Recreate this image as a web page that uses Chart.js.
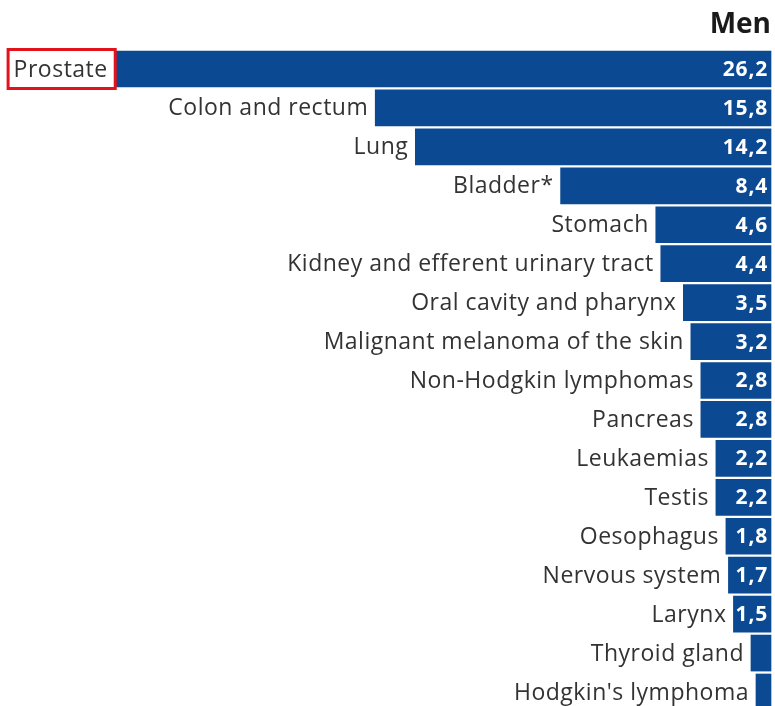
<!DOCTYPE html>
<html>
<head>
<meta charset="utf-8">
<script src="https://cdn.jsdelivr.net/npm/chart.js@4.4.1/dist/chart.umd.min.js"></script>
<style>
  html, body { margin: 0; padding: 0; background: #ffffff; }
  #wrap { position: relative; width: 775px; height: 706px; }
</style>
</head>
<body>
<div id="wrap"><canvas id="c" width="775" height="706"></canvas></div>
<script>
const title = "Men";
const categories = [
  "Prostate", "Colon and rectum", "Lung", "Bladder*", "Stomach",
  "Kidney and efferent urinary tract", "Oral cavity and pharynx",
  "Malignant melanoma of the skin", "Non-Hodgkin lymphomas", "Pancreas",
  "Leukaemias", "Testis", "Oesophagus", "Nervous system", "Larynx",
  "Thyroid gland", "Hodgkin's lymphoma"
];
const values = [26.2, 15.8, 14.2, 8.4, 4.6, 4.4, 3.5, 3.2, 2.8, 2.8, 2.2, 2.2, 1.8, 1.7, 1.5, 0.8, 0.6];
const valueLabels = ["26,2", "15,8", "14,2", "8,4", "4,6", "4,4", "3,5", "3,2", "2,8", "2,8", "2,2", "2,2", "1,8", "1,7", "1,5", "", ""];
const highlighted = ["Prostate"];

const labelPlugin = {
  id: 'labelPlugin',
  afterDatasetsDraw(chart) {
    const ctx = chart.ctx;
    const meta = chart.getDatasetMeta(0);
    const area = chart.chartArea;
    ctx.save();
    meta.data.forEach((bar, i) => {
      const y = bar.y;
      ctx.font = '23px "Open Sans"';
      ctx.letterSpacing = '0.5px';
      ctx.fillStyle = '#333333';
      ctx.textAlign = 'right';
      ctx.textBaseline = 'middle';
      const lx = bar.x - 7;
      ctx.fillText(categories[i], lx, y + 1);
      if (highlighted.includes(categories[i])) {
        const w = ctx.measureText(categories[i]).width;
        ctx.strokeStyle = '#e3131b';
        ctx.lineWidth = 3;
        ctx.strokeRect(lx - w - 5.5, y - 19.5, w + 13, 39);
      }
      if (valueLabels[i]) {
        ctx.font = 'bold 21px "Open Sans"';
        ctx.letterSpacing = '0.8px';
        ctx.fillStyle = '#ffffff';
        ctx.textAlign = 'right';
        ctx.fillText(valueLabels[i], area.right - 3, y + 1);
      }
      ctx.letterSpacing = '0px';
    });
    ctx.font = 'bold 28px "Open Sans"';
    ctx.fillStyle = '#1a1a1a';
    ctx.textAlign = 'right';
    ctx.textBaseline = 'middle';
    ctx.fillText(title, area.right, 25);
    ctx.restore();
  }
};

new Chart(document.getElementById('c'), {
  type: 'bar',
  data: {
    labels: categories,
    datasets: [{
      data: values,
      backgroundColor: '#0b4a93',
      borderWidth: 0,
      barThickness: 36,
      clip: false
    }]
  },
  options: {
    indexAxis: 'y',
    responsive: false,
    animation: false,
    layout: { padding: { top: 69, bottom: 14, left: 0, right: 4 } },
    scales: {
      x: { display: false, reverse: true, min: 0, max: 30.78 },
      y: { display: false, offset: false }
    },
    plugins: {
      legend: { display: false },
      tooltip: { enabled: false }
    }
  },
  plugins: [labelPlugin]
});
</script>
</body>
</html>
